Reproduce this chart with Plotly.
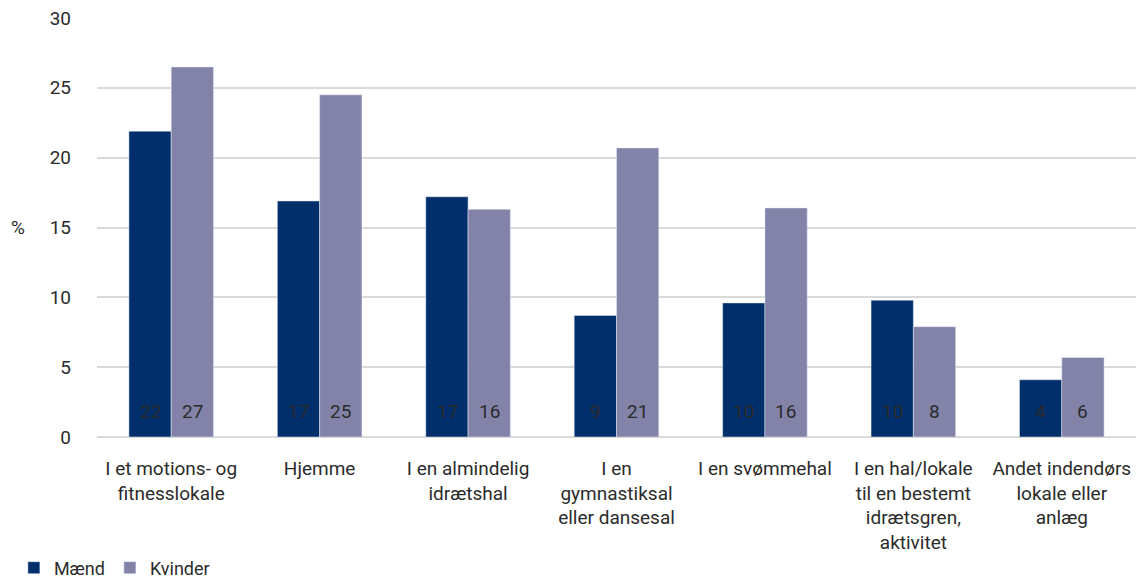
import plotly.graph_objects as go

categories = [
    "I et motions- og<br>fitnesslokale",
    "Hjemme",
    "I en almindelig<br>idrætshal",
    "I en<br>gymnastiksal<br>eller dansesal",
    "I en svømmehal",
    "I en hal/lokale<br>til en bestemt<br>idrætsgren,<br>aktivitet",
    "Andet indendørs<br>lokale eller<br>anlæg",
]
maend = [21.9, 16.9, 17.2, 8.7, 9.6, 9.8, 4.1]
kvinder = [26.5, 24.5, 16.3, 20.7, 16.4, 7.9, 5.7]
maend_labels = ["22", "17", "17", "9", "10", "10", "4"]
kvinder_labels = ["27", "25", "16", "21", "16", "8", "6"]

font = "Roboto"
txtcol = "#2b2b2b"

fig = go.Figure()
fig.add_trace(go.Bar(x=categories, y=maend, name="Mænd", marker_color="#002f6c"))
fig.add_trace(go.Bar(x=categories, y=kvinder, name="Kvinder", marker_color="#8383aa"))

# value labels near the bar base, like the original
for cat, m, k in zip(categories, maend_labels, kvinder_labels):
    for lab, dx in ((m, -21), (k, 21)):
        fig.add_annotation(x=cat, y=0, text=lab, showarrow=False, xshift=dx,
                           yanchor="middle", yshift=26,
                           font=dict(size=19, color=txtcol, family=font))

# page body has an 8px margin, so the figure is offset a bit in the window
fig.update_layout(
    width=1128, height=570,
    margin=dict(l=89, r=0, t=10, b=141, autoexpand=False),
    plot_bgcolor="white", paper_bgcolor="white",
    barmode="group", bargap=0.43, bargroupgap=0,
    font=dict(family=font, size=18, color=txtcol),
    showlegend=True,
    legend=dict(orientation="h", x=-0.08, xanchor="left", y=-0.3126, yanchor="middle",
                font=dict(size=18), itemwidth=30, tracegroupgap=0),
)
fig.update_yaxes(range=[0, 30], dtick=5, showgrid=True, gridcolor="#d9d9d9", gridwidth=2,
                 zeroline=True, zerolinecolor="#d9d9d9", zerolinewidth=2, automargin=False,
                 ticks="", ticklabelstandoff=25, ticklabeloverflow="allow", tickfont=dict(size=19))
fig.update_xaxes(showline=False, ticks="", tickangle=0, automargin=False,
                 ticklabelstandoff=18, tickfont=dict(size=19))

fig.add_annotation(text="%", xref="paper", yref="y", x=-0.076, y=15, showarrow=False,
                   xanchor="center", font=dict(size=19))

fig.write_html("out.html")
